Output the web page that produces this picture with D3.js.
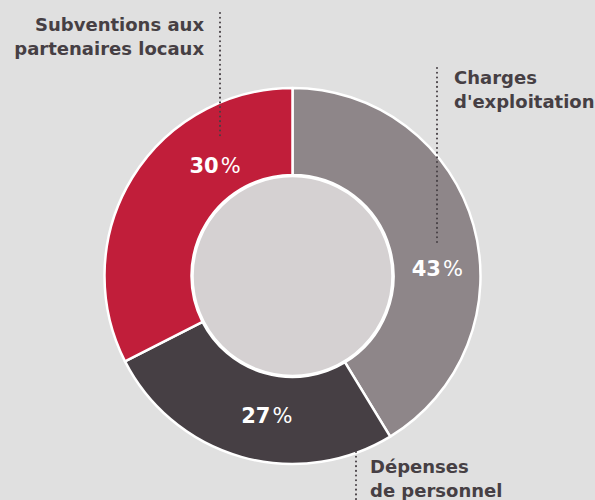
<!DOCTYPE html>
<html>
<head>
<meta charset="utf-8">
<script src="https://cdn.jsdelivr.net/npm/d3@7"></script>
<style>
    html, body { margin: 0; padding: 0; background: #e0e0e0; }
    svg { display: block; }
    text { font-family: "DejaVu Sans", sans-serif; }
</style>
</head>
<body>
<div id="chart"></div>
<script>
// data (slice sizes follow the drawn angles, labels are the printed ones)
let categories = ["Charges d'exploitation", "Dépenses de personnel", "Subventions aux partenaires locaux"];
let sliceValues = [41.3, 26.2, 32.5];
let percentLabels = ["43", "27", "30"];
let nameLines = [["Charges", "d'exploitation"], ["Dépenses", "de personnel"], ["Subventions aux", "partenaires locaux"]];

let colors = ["#8e8689", "#463f44", "#c11e3a"];

let width = 595, height = 500;
let cx = 292.5, cy = 276;
let outerR = 188, innerR = 101;

let svg = d3.select("#chart")
    .append("svg")
    .attr("width", width)
    .attr("height", height);

svg.append("rect")
    .attr("width", width)
    .attr("height", height)
    .attr("fill", "#e0e0e0");

let g = svg.append("g")
    .attr("transform", "translate(" + cx + "," + cy + ")");

let pie = d3.pie().sort(null).value(function(d) { return d; });
let arc = d3.arc().innerRadius(innerR).outerRadius(outerR);

let arcs = pie(sliceValues);

// slices
g.selectAll("path.slice")
    .data(arcs)
    .enter()
    .append("path")
    .attr("class", "slice")
    .attr("d", arc)
    .attr("fill", function(d, i) { return colors[i]; })
    .attr("stroke", "#ffffff")
    .attr("stroke-width", 2.5)
    .attr("stroke-linejoin", "round");

// inner disc
g.append("circle")
    .attr("r", innerR - 1)
    .attr("fill", "#d5d1d2")
    .attr("stroke", "#ffffff")
    .attr("stroke-width", 2.5);

// percentage labels, placed in the ring (angle in degrees, clockwise from top)
let labelAngle = [87, 190.5, 325];
let labelRadius = [145, 141, 135];

let pct = g.selectAll("text.pct")
    .data(arcs)
    .enter()
    .append("text")
    .attr("class", "pct")
    .attr("x", function(d, i) { return labelRadius[i] * Math.sin(labelAngle[i] * Math.PI / 180); })
    .attr("y", function(d, i) { return -labelRadius[i] * Math.cos(labelAngle[i] * Math.PI / 180) + 8; })
    .attr("text-anchor", "middle")
    .attr("fill", "#ffffff")
    .attr("font-size", 21)
    .attr("font-weight", "bold");
pct.append("tspan").text(function(d, i) { return percentLabels[i]; });
pct.append("tspan").attr("dx", 2).attr("font-weight", "normal").text("%");

// leader lines (dotted) from the names to the ring
let leaders = [
    {x: 437, y1: 68, y2: 243},
    {x: 356, y1: 452, y2: 500},
    {x: 220, y1: 13, y2: 137}
];
svg.selectAll("line.leader")
    .data(leaders)
    .enter()
    .append("line")
    .attr("class", "leader")
    .attr("x1", function(d) { return d.x; })
    .attr("x2", function(d) { return d.x; })
    .attr("y1", function(d) { return d.y1; })
    .attr("y2", function(d) { return d.y2; })
    .attr("stroke", "#463f44")
    .attr("stroke-width", 2)
    .attr("stroke-linecap", "round")
    .attr("stroke-dasharray", "0.1 4.6");

// category names
let namePos = [
    {x: 454, y: 84, anchor: "start"},
    {x: 370, y: 473, anchor: "start"},
    {x: 204, y: 31, anchor: "end"}
];
for (let i = 0; i < categories.length; i++) {
    let t = svg.append("text")
        .attr("x", namePos[i].x)
        .attr("y", namePos[i].y)
        .attr("text-anchor", namePos[i].anchor)
        .attr("fill", "#463f44")
        .attr("font-size", 18)
        .attr("font-weight", "bold");
    nameLines[i].forEach(function(line, j) {
        t.append("tspan")
            .attr("x", namePos[i].x)
            .attr("dy", j === 0 ? 0 : 23.5)
            .text(line);
    });
}
</script>
</body>
</html>
